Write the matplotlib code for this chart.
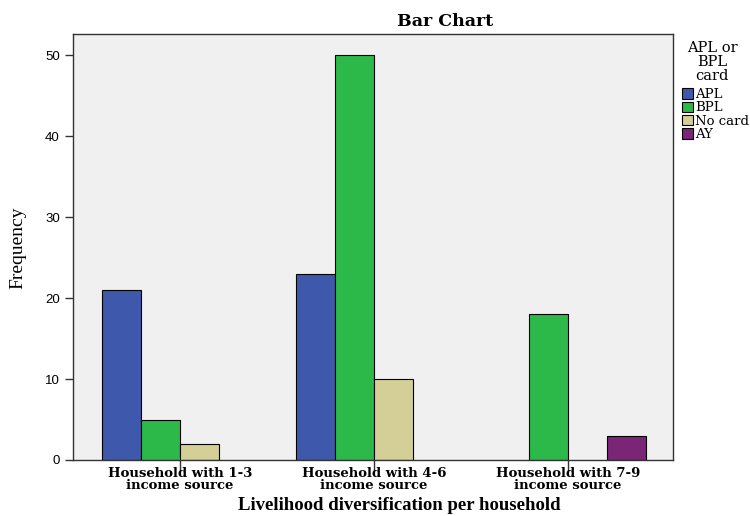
import matplotlib
matplotlib.use("Agg")
import matplotlib.pyplot as plt
import numpy as np

categories = ["Household with 1-3\nincome source",
              "Household with 4-6\nincome source",
              "Household with 7-9\nincome source"]
series_names = ["APL", "BPL", "No card", "AY"]
apl = [21, 23, 0]
bpl = [5, 50, 18]
no_card = [2, 10, 0]
ay = [0, 0, 3]
yticks = [0, 10, 20, 30, 40, 50]

colors = ["#3E58AC", "#2DB84A", "#D4CF96", "#7B2576"]
wide = ["DejaVu Serif"]
serif = ["Liberation Serif", "DejaVu Serif"]
sans = ["Liberation Sans", "DejaVu Sans"]

fig = plt.figure(figsize=(7.5, 5.16), dpi=100)
ax = fig.add_axes([73/750, 1-460/516, (673-73)/750, (460-34)/516])
ax.set_facecolor("#F0F0F0")

x = np.arange(len(categories))
w = 0.2
data = [apl, bpl, no_card, ay]
for i, (name, vals) in enumerate(zip(series_names, data)):
    pos = x + (i - 1.5) * w
    vv = np.array(vals, dtype=float)
    mask = vv > 0
    ax.bar(pos[mask], vv[mask], width=w, color=colors[i], edgecolor="black",
           linewidth=0.8, label=name)

ax.set_xlim(-0.55, 2.54)
ax.set_ylim(0, 52.6)
ax.set_xticks(x)
ax.set_xticklabels(categories, fontfamily=wide, fontweight="bold", fontsize=9.5,
                   linespacing=0.95)
ax.set_yticks(yticks)
ax.set_yticklabels([str(v) for v in yticks], fontfamily=sans, fontsize=9.5)
ax.tick_params(axis="y", direction="out", length=6, width=1, color="#333333")
ax.tick_params(axis="x", direction="out", length=8, width=1, color="#333333", pad=-3)
for s in ax.spines.values():
    s.set_color("#333333")
    s.set_linewidth(1)

fig.text(445/750, 1-21/516, "Bar Chart", fontfamily=wide, fontweight="bold",
         fontsize=12.5, ha="center", va="center")
fig.text(399/750, 1-506/516, "Livelihood diversification per household",
         fontfamily=serif, fontweight="bold", fontsize=13.5, ha="center", va="center")
fig.text(18/750, 1-248/516, "Frequency", fontfamily=serif, fontsize=14,
         rotation=90, ha="center", va="center")

fig.text(712/750, 1-62/516, "APL or\nBPL\ncard", fontfamily=wide, fontsize=10.5,
         ha="center", va="center", multialignment="center", linespacing=0.98)
leg = ax.legend(loc="upper left", bbox_to_anchor=(682/750, 1-88/516),
                bbox_transform=fig.transFigure, frameon=False,
                handlelength=0.85, handleheight=0.85,
                handletextpad=0.15, labelspacing=0.03, borderpad=0, borderaxespad=0,
                prop={"family": wide, "size": 9.5})

fig.savefig("out.png", dpi=100)
